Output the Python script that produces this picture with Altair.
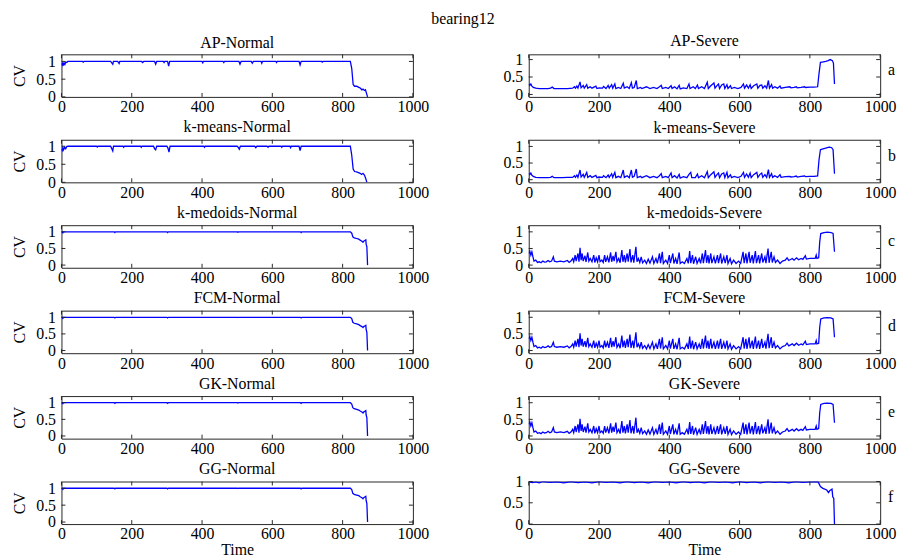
import altair as alt
import pandas as pd

MAIN_TITLE = "bearing12"
XTICKS = [0, 200, 400, 600, 800, 1000]
YTICKS = [0, 0.5, 1]
LETTERS = ["a", "b", "c", "d", "e", "f"]
LEFT_TITLES = ["AP-Normal", "k-means-Normal", "k-medoids-Normal", "FCM-Normal", "GK-Normal", "GG-Normal"]
RIGHT_TITLES = ["AP-Severe", "k-means-Severe", "k-medoids-Severe", "FCM-Severe", "GK-Severe", "GG-Severe"]

# (time, CV) points
ap_normal = [(0, 0.95), (2, 0.9), (4, 0.97), (6, 0.88), (8, 0.95), (10, 0.92), (12, 0.98), (15, 0.97), (18, 1.0),
             (60, 1.0), (62, 0.98), (64, 1.0), (140, 1.0), (146, 0.92), (148, 1.0), (160, 1.0), (164, 0.94), (166, 1.0),
             (228, 1.0), (231, 0.97), (234, 1.0), (265, 1.0), (268, 0.92), (271, 1.0), (290, 1.0), (292, 0.97), (294, 1.0),
             (302, 1.0), (305, 0.87), (308, 1.0), (400, 1.0), (402, 0.96), (404, 1.0), (460, 1.0), (462, 0.97), (464, 1.0),
             (505, 1.0), (508, 0.92), (511, 1.0), (540, 1.0), (543, 0.95), (546, 1.0), (568, 1.0), (570, 0.95), (572, 1.0),
             (610, 1.0), (612, 0.97), (614, 1.0), (676, 1.0), (679, 0.9), (682, 1.0), (740, 1.0), (742, 0.98), (744, 1.0),
             (822, 1.0), (826, 0.8), (830, 0.35), (834, 0.3), (840, 0.3), (846, 0.27), (850, 0.25), (855, 0.2), (858, 0.22),
             (862, 0.18), (865, 0.2), (868, 0.1), (871, 0.0)]

kmeans_normal = [(0, 0.92), (2, 0.88), (4, 0.96), (6, 0.9), (9, 0.97), (12, 0.93), (15, 0.99), (18, 1.0),
                 (100, 1.0), (102, 0.98), (104, 1.0), (140, 1.0), (146, 0.87), (148, 1.0), (175, 1.0), (177, 0.97), (179, 1.0),
                 (225, 1.0), (227, 0.97), (229, 1.0), (262, 1.0), (265, 0.93), (268, 0.9), (271, 1.0), (300, 1.0), (303, 0.95),
                 (306, 0.84), (309, 1.0), (405, 1.0), (407, 0.97), (409, 1.0), (500, 1.0), (503, 0.97), (506, 0.92), (509, 1.0),
                 (550, 1.0), (553, 0.96), (556, 1.0), (585, 1.0), (588, 0.97), (590, 1.0), (625, 1.0), (627, 0.97), (629, 1.0),
                 (650, 1.0), (652, 0.96), (654, 1.0), (676, 1.0), (679, 0.88), (682, 1.0), (822, 1.0), (826, 0.75), (830, 0.37),
                 (834, 0.3), (840, 0.29), (845, 0.27), (850, 0.25), (854, 0.22), (858, 0.25), (862, 0.2), (866, 0.1), (869, 0.0)]

# k-medoids, FCM, GK and GG normal curves look the same
medoid_normal = [(0, 0.98), (2, 1.0), (4, 0.97), (6, 1.0), (150, 1.0), (152, 0.98), (154, 1.0), (300, 1.0), (302, 0.98),
                 (304, 1.0), (500, 1.0), (502, 0.99), (504, 1.0), (680, 1.0), (682, 0.98), (684, 1.0), (822, 1.0), (826, 0.96),
                 (829, 0.85), (833, 0.82), (840, 0.8), (846, 0.78), (850, 0.75), (855, 0.72), (858, 0.69), (860, 0.72),
                 (863, 0.74), (866, 0.76), (867, 0.63), (869, 0.55), (871, 0.0)]

ap_severe = [(0, 0.3), (3, 0.26), (6, 0.3), (9, 0.24), (13, 0.2), (20, 0.18), (30, 0.17), (40, 0.17), (55, 0.17), (62, 0.18),
             (67, 0.21), (72, 0.17), (80, 0.17), (95, 0.17), (110, 0.17), (125, 0.18), (130, 0.22), (133, 0.18), (137, 0.24),
             (140, 0.18), (146, 0.36), (149, 0.19), (155, 0.26), (158, 0.18), (165, 0.28), (168, 0.18), (175, 0.22), (180, 0.18),
             (191, 0.24), (194, 0.17), (200, 0.19), (210, 0.18), (213, 0.23), (220, 0.17), (226, 0.26), (229, 0.18), (236, 0.28),
             (239, 0.18), (245, 0.3), (248, 0.17), (255, 0.2), (262, 0.17), (269, 0.32), (272, 0.18), (280, 0.22), (286, 0.17),
             (292, 0.34), (295, 0.18), (300, 0.2), (306, 0.4), (309, 0.17), (318, 0.2), (322, 0.17), (335, 0.22), (345, 0.17),
             (355, 0.2), (365, 0.17), (372, 0.22), (377, 0.26), (380, 0.17), (390, 0.2), (397, 0.17), (405, 0.25), (408, 0.17),
             (415, 0.22), (422, 0.16), (428, 0.26), (431, 0.16), (440, 0.19), (450, 0.17), (456, 0.3), (459, 0.17), (468, 0.22),
             (474, 0.17), (480, 0.27), (483, 0.17), (492, 0.22), (500, 0.17), (508, 0.35), (511, 0.17), (518, 0.25), (527, 0.33),
             (530, 0.18), (536, 0.26), (540, 0.3), (543, 0.17), (549, 0.27), (555, 0.3), (558, 0.17), (564, 0.28), (567, 0.17),
             (574, 0.25), (577, 0.17), (585, 0.2), (595, 0.17), (604, 0.2), (611, 0.3), (614, 0.18), (620, 0.27), (625, 0.18),
             (630, 0.28), (633, 0.17), (640, 0.25), (649, 0.3), (652, 0.18), (658, 0.26), (663, 0.27), (666, 0.18), (672, 0.25),
             (677, 0.18), (682, 0.4), (685, 0.18), (691, 0.28), (694, 0.18), (700, 0.22), (708, 0.18), (715, 0.24), (718, 0.18),
             (730, 0.2), (743, 0.22), (746, 0.19), (755, 0.2), (761, 0.22), (764, 0.19), (775, 0.2), (785, 0.22), (788, 0.2),
             (800, 0.21), (812, 0.21), (822, 0.22), (826, 0.6), (830, 0.92), (835, 0.93), (845, 0.95), (852, 0.97), (858, 1.0),
             (864, 0.97), (867, 0.9), (870, 0.3)]

kmeans_severe = [(0, 0.19), (3, 0.15), (6, 0.2), (9, 0.13), (13, 0.1), (20, 0.07), (30, 0.06), (40, 0.06), (55, 0.06),
                 (62, 0.07), (67, 0.1), (72, 0.06), (80, 0.06), (95, 0.06), (110, 0.07), (125, 0.07), (130, 0.12), (133, 0.07),
                 (137, 0.14), (140, 0.07), (146, 0.29), (149, 0.08), (155, 0.16), (158, 0.07), (165, 0.22), (168, 0.07),
                 (175, 0.12), (180, 0.07), (191, 0.13), (194, 0.06), (200, 0.08), (210, 0.07), (213, 0.12), (220, 0.06),
                 (226, 0.14), (229, 0.07), (236, 0.18), (239, 0.07), (245, 0.22), (248, 0.06), (255, 0.1), (262, 0.06),
                 (269, 0.29), (272, 0.07), (280, 0.12), (286, 0.06), (292, 0.29), (295, 0.07), (300, 0.1), (306, 0.32),
                 (309, 0.06), (318, 0.1), (322, 0.06), (335, 0.12), (345, 0.06), (355, 0.1), (365, 0.06), (372, 0.12),
                 (377, 0.18), (380, 0.06), (390, 0.1), (397, 0.06), (405, 0.2), (408, 0.06), (415, 0.12), (422, 0.05),
                 (428, 0.16), (431, 0.05), (440, 0.09), (450, 0.06), (456, 0.16), (461, 0.22), (464, 0.06), (474, 0.06),
                 (480, 0.17), (483, 0.06), (492, 0.12), (500, 0.06), (508, 0.24), (511, 0.06), (518, 0.15), (527, 0.24),
                 (530, 0.07), (536, 0.16), (540, 0.2), (543, 0.06), (549, 0.17), (555, 0.2), (558, 0.06), (564, 0.22),
                 (567, 0.06), (574, 0.15), (577, 0.06), (585, 0.1), (595, 0.06), (604, 0.1), (611, 0.22), (614, 0.07),
                 (620, 0.17), (625, 0.07), (630, 0.2), (633, 0.06), (640, 0.15), (649, 0.22), (652, 0.07), (658, 0.16),
                 (663, 0.2), (666, 0.07), (672, 0.15), (677, 0.07), (682, 0.3), (685, 0.07), (691, 0.18), (694, 0.07),
                 (700, 0.12), (708, 0.07), (715, 0.15), (718, 0.07), (730, 0.09), (743, 0.1), (746, 0.08), (755, 0.09),
                 (761, 0.11), (764, 0.08), (775, 0.1), (785, 0.11), (788, 0.09), (800, 0.1), (812, 0.1), (822, 0.11),
                 (826, 0.6), (830, 0.9), (835, 0.92), (845, 0.95), (852, 0.97), (856, 0.98), (862, 0.96), (866, 0.9),
                 (870, 0.18)]

# k-medoids, FCM and GK severe curves look the same
medoid_severe = [(0, 0.35), (3, 0.42), (6, 0.3), (9, 0.4), (12, 0.25), (15, 0.12), (20, 0.15), (25, 0.08), (30, 0.1),
                 (35, 0.07), (40, 0.12), (45, 0.09), (50, 0.1), (55, 0.14), (60, 0.1), (65, 0.12), (70, 0.25), (73, 0.12),
                 (80, 0.1), (90, 0.12), (100, 0.1), (110, 0.14), (115, 0.08), (120, 0.12), (125, 0.2), (128, 0.1), (132, 0.3),
                 (135, 0.12), (140, 0.35), (143, 0.1), (146, 0.52), (149, 0.15), (152, 0.35), (155, 0.12), (160, 0.28),
                 (163, 0.1), (168, 0.38), (171, 0.12), (175, 0.2), (180, 0.1), (185, 0.3), (188, 0.08), (192, 0.22),
                 (196, 0.1), (200, 0.3), (203, 0.1), (208, 0.15), (212, 0.08), (216, 0.3), (219, 0.1), (224, 0.25),
                 (228, 0.08), (233, 0.38), (236, 0.1), (240, 0.28), (243, 0.12), (248, 0.4), (251, 0.1), (256, 0.2),
                 (260, 0.07), (265, 0.45), (268, 0.1), (272, 0.3), (275, 0.08), (280, 0.35), (283, 0.1), (288, 0.48),
                 (291, 0.08), (296, 0.3), (299, 0.07), (305, 0.55), (308, 0.1), (312, 0.2), (316, 0.08), (320, 0.25),
                 (324, 0.07), (330, 0.15), (335, 0.05), (340, 0.18), (345, 0.06), (352, 0.25), (356, 0.05), (362, 0.2),
                 (366, 0.05), (372, 0.35), (375, 0.06), (380, 0.4), (383, 0.05), (390, 0.15), (395, 0.05), (400, 0.3),
                 (403, 0.06), (410, 0.35), (413, 0.05), (418, 0.2), (422, 0.04), (428, 0.38), (431, 0.05), (437, 0.1),
                 (443, 0.05), (450, 0.2), (454, 0.05), (458, 0.42), (461, 0.06), (466, 0.3), (469, 0.04), (475, 0.25),
                 (479, 0.05), (485, 0.2), (489, 0.05), (494, 0.35), (497, 0.06), (503, 0.45), (506, 0.07), (510, 0.3),
                 (513, 0.05), (518, 0.35), (521, 0.06), (527, 0.25), (531, 0.05), (537, 0.3), (540, 0.06), (546, 0.35),
                 (549, 0.05), (555, 0.25), (559, 0.06), (564, 0.3), (567, 0.05), (573, 0.2), (577, 0.04), (583, 0.15),
                 (590, 0.05), (597, 0.12), (603, 0.05), (610, 0.4), (613, 0.06), (618, 0.35), (621, 0.05), (627, 0.4),
                 (630, 0.07), (636, 0.3), (639, 0.05), (645, 0.42), (648, 0.06), (654, 0.3), (657, 0.05), (663, 0.35),
                 (666, 0.08), (672, 0.25), (675, 0.06), (681, 0.5), (684, 0.07), (690, 0.4), (693, 0.08), (698, 0.25),
                 (702, 0.08), (708, 0.15), (715, 0.05), (722, 0.12), (730, 0.15), (735, 0.22), (740, 0.14), (750, 0.2),
                 (755, 0.15), (762, 0.22), (768, 0.16), (775, 0.2), (780, 0.17), (787, 0.28), (790, 0.18), (800, 0.2),
                 (810, 0.2), (815, 0.2), (818, 0.3), (820, 0.2), (825, 0.22), (828, 0.7), (831, 0.95), (840, 0.98),
                 (850, 0.99), (860, 0.98), (866, 0.95), (870, 0.4)]

gg_severe = [(0, 1.0), (10, 0.975), (20, 0.99), (30, 0.97), (40, 1.0), (60, 0.98), (80, 0.99), (100, 0.97), (120, 1.0),
             (140, 0.975), (160, 0.99), (180, 0.97), (200, 1.0), (220, 0.98), (240, 0.99), (260, 0.97), (280, 1.0),
             (300, 0.975), (320, 0.99), (340, 0.97), (360, 1.0), (380, 0.98), (400, 0.99), (420, 0.97), (440, 1.0),
             (460, 0.975), (480, 0.99), (500, 0.97), (520, 1.0), (540, 0.98), (560, 0.99), (580, 0.97), (600, 1.0),
             (620, 0.975), (640, 0.99), (660, 0.97), (680, 1.0), (700, 0.98), (720, 0.99), (740, 0.97), (760, 1.0),
             (780, 0.98), (800, 0.99), (822, 1.0), (826, 0.95), (830, 0.88), (837, 0.84), (848, 0.8), (853, 0.74),
             (857, 0.79), (863, 0.82), (865, 0.64), (868, 0.6), (870, 0.0)]

LEFT_SERIES = [ap_normal, kmeans_normal, medoid_normal, medoid_normal, medoid_normal, medoid_normal]
RIGHT_SERIES = [ap_severe, kmeans_severe, medoid_severe, medoid_severe, medoid_severe, gg_severe]
LEFT_DOMAINS = [[0, 1.2], [0, 1.18], [-0.08, 1.2], [-0.08, 1.2], [-0.08, 1.2], [-0.06, 1.2]]
RIGHT_DOMAINS = [[-0.07, 1.15], [-0.08, 1.2], [-0.08, 1.2], [-0.08, 1.2], [-0.08, 1.2], [0, 1]]

W, H = 355, 43
FONT = "Liberation Serif"
FS = 16
FRAME = "#262626"
BLUE = "#0000ff"

AXIS_STYLE = dict(labelFont=FONT, labelFontSize=FS, labelColor="black", titleFont=FONT, titleFontSize=FS,
                  titleFontWeight="normal", titleColor="black", ticks=False, domain=False, grid=False,
                  labelOverlap=False)


def panel(points, title, ydom, show_cv, show_time, letter, title_offset):
    df = pd.DataFrame(points, columns=["t", "v"])
    xs = alt.Scale(domain=[0, 1000], nice=False, zero=False)
    ys = alt.Scale(domain=ydom, nice=False, zero=False)
    xaxis = alt.Axis(values=XTICKS, format="d", title="Time" if show_time else "", labelPadding=2,
                     labelFlush=False, titlePadding=0, **AXIS_STYLE)
    yaxis = alt.Axis(values=YTICKS, format="~g", title="CV" if show_cv else "", labelPadding=6,
                     titlePadding=8, **AXIS_STYLE)
    line = alt.Chart(df).mark_line(color=BLUE, strokeWidth=1.3, clip=True).encode(
        x=alt.X("t:Q", scale=xs, axis=xaxis),
        y=alt.Y("v:Q", scale=ys, axis=yaxis),
    )
    xt = pd.DataFrame({"t": XTICKS})
    yt = pd.DataFrame({"v": YTICKS})
    tick_b = alt.Chart(xt).mark_rule(color=FRAME, strokeWidth=1).encode(
        x=alt.X("t:Q", scale=xs, axis=xaxis), y=alt.value(H), y2=alt.value(H - 4))
    tick_t = alt.Chart(xt).mark_rule(color=FRAME, strokeWidth=1).encode(
        x=alt.X("t:Q", scale=xs, axis=xaxis), y=alt.value(0), y2=alt.value(4))
    tick_l = alt.Chart(yt).mark_rule(color=FRAME, strokeWidth=1).encode(
        y=alt.Y("v:Q", scale=ys, axis=yaxis), x=alt.value(0), x2=alt.value(4))
    tick_r = alt.Chart(yt).mark_rule(color=FRAME, strokeWidth=1).encode(
        y=alt.Y("v:Q", scale=ys, axis=yaxis), x=alt.value(W), x2=alt.value(W - 4))
    layers = [line, tick_b, tick_t, tick_l, tick_r]
    if letter:
        lt = pd.DataFrame({"s": [letter]})
        layers.append(alt.Chart(lt).mark_text(font=FONT, fontSize=FS, align="left", baseline="middle",
                                              color="black").encode(
            text="s:N", x=alt.value(W + 8), y=alt.value(16)))
    return alt.layer(*layers).properties(
        width=W, height=H,
        title=alt.TitleParams(title, font=FONT, fontSize=FS, fontWeight="normal", color="black",
                              offset=title_offset),
    )


panels = []
for i in range(6):
    last = i == 5
    panels.append(panel(LEFT_SERIES[i], LEFT_TITLES[i], LEFT_DOMAINS[i], True, last, None, 3))
    panels.append(panel(RIGHT_SERIES[i], RIGHT_TITLES[i], RIGHT_DOMAINS[i], False, last, LETTERS[i],
                        -3 if last else 3))

chart = alt.concat(*panels, columns=2, spacing={"row": 43.3, "column": 117}, bounds="flush").properties(
    title=alt.TitleParams(MAIN_TITLE, font=FONT, fontSize=FS, fontWeight="normal", color="black",
                          anchor="middle", dx=9, dy=-3, offset=2),
    padding={"left": 3, "top": 0, "right": 0, "bottom": 0},
    background="white",
).configure_view(stroke=FRAME, strokeWidth=1)

chart.save("out.html", embed_options={"renderer": "svg", "actions": False})
